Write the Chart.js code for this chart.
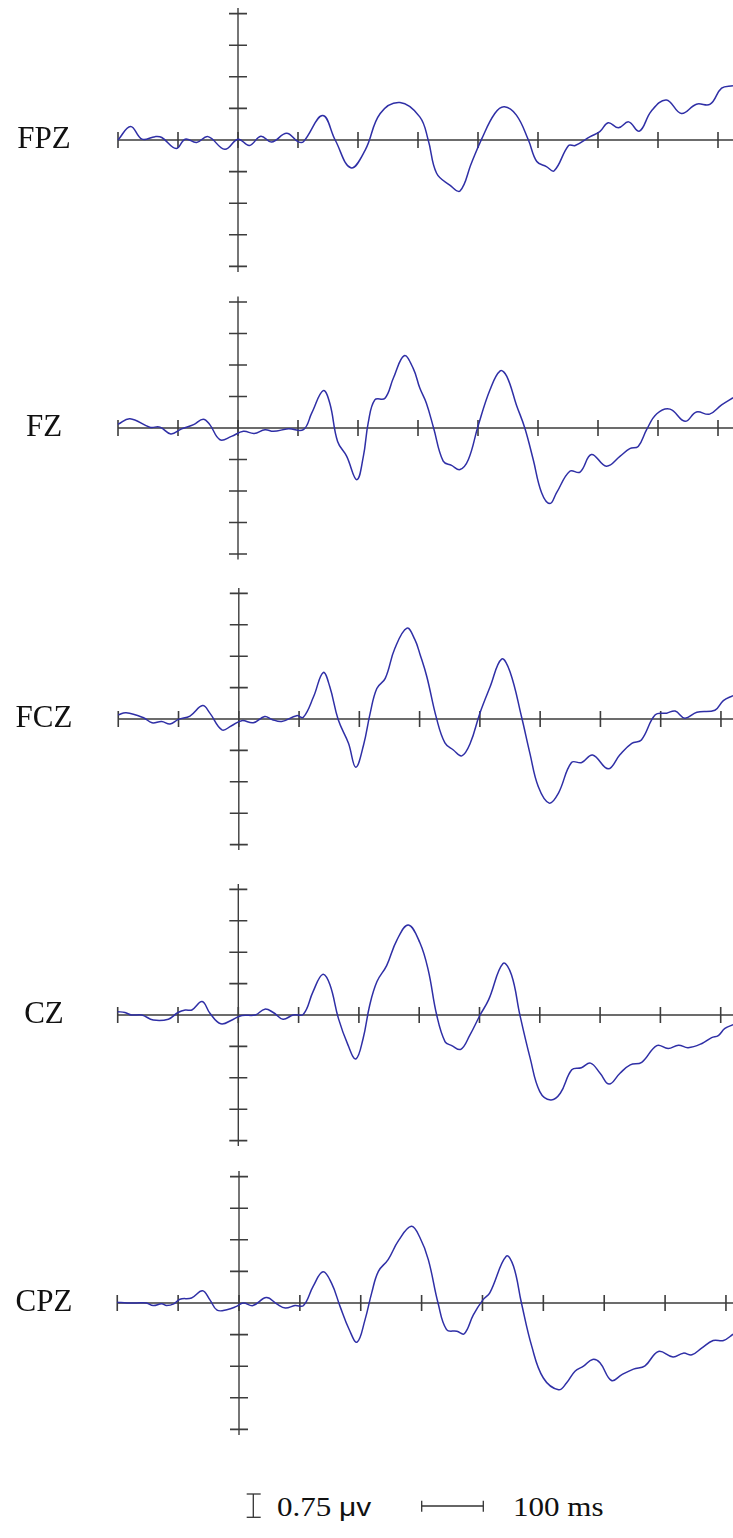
<!DOCTYPE html>
<html>
<head>
<meta charset="utf-8">
<script src="https://cdn.jsdelivr.net/npm/chart.js@4.4.1/dist/chart.umd.min.js"></script>
<style>
  html, body { margin: 0; padding: 0; background: #ffffff; }
  body { width: 733px; height: 1538px; position: relative; overflow: hidden; }
  canvas { position: absolute; left: 0; }
  .lab { position: absolute; left: 0; width: 88px; text-align: center;
         font-family: "Liberation Serif", "Times New Roman", serif; font-size: 31px;
         line-height: 31px; color: #111; white-space: nowrap; }
  .leg { position: absolute; font-family: "Liberation Serif", "Times New Roman", serif;
         font-size: 27px; line-height: 27px; color: #111; white-space: nowrap;
         transform-origin: 0 0; transform: scaleX(1.15); }
  .leg .sans { font-family: "Liberation Sans", Arial, sans-serif; font-size: 26px; }
</style>
</head>
<body>
<script>
// ---------------- data ----------------
const channelNames = ['FPZ', 'FZ', 'FCZ', 'CZ', 'CPZ'];

// tick values (ms and µV)
const xTickValues = [-200, -100, 0, 100, 200, 300, 400, 500, 600, 700, 800];
const yTickValues = [-3, -2.25, -1.5, -0.75, 0.75, 1.5, 2.25, 3];
const axisReachUv = 3.13;

const fpzTime = [-200,-179,-160,-138,-127,-103,-88,-69,-50,-22,0,19,38,56,81,100,109,141,162,188,212,237,270,303,317,331,353,370,389,406,428,444,464,484,498,514,527,551,562,587,603,617,634,651,669,689,714,739,764,787,806,825];
const fpzVolt = [0,0.32,0.02,0.08,0.06,-0.2,0.02,-0.06,0.08,-0.22,0.02,-0.13,0.09,-0.05,0.16,-0.04,-0.04,0.58,0,-0.66,-0.24,0.63,0.89,0.55,0,-0.79,-1.07,-1.21,-0.55,0.02,0.63,0.79,0.59,0,-0.51,-0.63,-0.73,-0.13,-0.13,0.08,0.2,0.41,0.29,0.43,0.21,0.69,0.95,0.63,0.85,0.85,1.23,1.29];

const fzTime = [-200,-180,-147,-130,-112,-94,-74,-58,-47,-30,-11,9,27,45,59,84,109,123,142,153,166,181,198,209,217,228,245,259,277,292,303,314,326,342,356,370,384,400,420,437,448,464,478,492,506,520,531,553,570,589,614,637,653,667,681,698,720,745,764,786,806,825];
const fzVolt = [0.09,0.22,0.02,0.02,-0.14,-0.02,0.08,0.21,0.08,-0.28,-0.2,-0.08,-0.13,-0.04,-0.08,-0.02,-0.04,0.36,0.89,0.59,-0.32,-0.67,-1.23,-0.67,0.12,0.67,0.71,1.19,1.72,1.42,0.95,0.59,0,-0.79,-0.89,-0.99,-0.75,0.04,0.91,1.36,1.23,0.55,0,-0.75,-1.54,-1.8,-1.54,-1.03,-1.05,-0.63,-0.91,-0.67,-0.49,-0.44,-0.04,0.34,0.45,0.16,0.38,0.33,0.55,0.72];

const fczTime = [-200,-187,-158,-144,-128,-114,-100,-81,-60,-48,-28,-12,5,24,43,55,71,96,107,124,140,151,165,182,194,207,218,229,243,259,279,292,301,312,328,342,356,370,384,400,417,436,450,469,483,497,515,530,552,569,587,613,632,652,668,691,710,724,740,760,790,804,820];
const fczVolt = [0.1,0.15,0.03,-0.09,-0.06,-0.12,-0.01,0.07,0.32,0.14,-0.26,-0.16,-0.04,-0.09,0.06,-0.01,-0.06,0.08,0.04,0.53,1.11,0.77,-0.02,-0.58,-1.15,-0.62,0.14,0.73,0.97,1.69,2.17,1.9,1.53,1.01,0.02,-0.57,-0.74,-0.88,-0.58,0.14,0.77,1.43,1.13,0.06,-0.82,-1.62,-2.01,-1.78,-1.04,-1.04,-0.86,-1.19,-0.86,-0.58,-0.5,0.1,0.14,0.19,0.02,0.16,0.21,0.44,0.56];

const czTime = [-200,-188,-177,-160,-141,-116,-100,-88,-77,-60,-47,-29,-8,6,28,44,58,74,91,108,124,140,152,166,182,195,207,218,230,246,263,282,301,315,329,343,354,369,384,401,415,439,453,467,484,500,518,534,553,569,584,600,615,633,650,669,694,713,730,746,769,785,796,807,821];
const czVolt = [0.08,0.06,0,0,-0.12,-0.1,0.06,0.12,0.12,0.32,0.04,-0.21,-0.1,-0.01,0,0.14,0.06,-0.1,0,0.02,0.56,0.97,0.72,-0.08,-0.72,-1.05,-0.56,0.24,0.8,1.18,1.79,2.15,1.73,1.07,0,-0.64,-0.73,-0.82,-0.48,0,0.36,1.23,0.96,0,-1.03,-1.83,-2.03,-1.87,-1.31,-1.26,-1.15,-1.39,-1.65,-1.39,-1.19,-1.13,-0.73,-0.8,-0.72,-0.78,-0.68,-0.54,-0.49,-0.32,-0.23];

const cpzTime = [-200,-184,-168,-152,-141,-127,-119,-107,-97,-78,-60,-48,-36,-20,-4,7,23,45,62,76,92,106,122,138,152,166,181,194,207,218,229,245,262,283,297,311,327,341,358,370,385,401,412,439,451,464,481,500,525,538,552,566,581,593,612,629,648,667,689,713,730,744,760,779,796,812];
const cpzVolt = [0.02,0,0,0,-0.06,-0.02,-0.06,-0.02,0.09,0.12,0.29,0.08,-0.17,-0.16,-0.08,0,-0.06,0.13,-0.02,-0.12,-0.06,-0.06,0.4,0.74,0.47,-0.08,-0.63,-0.93,-0.4,0.24,0.75,1.03,1.48,1.82,1.56,1.03,0,-0.63,-0.67,-0.73,-0.28,0.08,0.24,1.11,0.87,0,-1.03,-1.78,-2.06,-1.9,-1.62,-1.5,-1.34,-1.42,-1.84,-1.7,-1.57,-1.49,-1.15,-1.28,-1.19,-1.23,-1.07,-0.89,-0.89,-0.74];

const channelTimes = [fpzTime, fzTime, fczTime, czTime, cpzTime];
const channelVolts = [fpzVolt, fzVolt, fczVolt, czVolt, cpzVolt];

// ---------------- layout (positions only) ----------------
const panelBaselineY = [140, 428, 719, 1015, 1303];   // page y of the 0 µV line
const panelZeroX     = [238, 238, 238.8, 238.3, 239];  // page x of t = 0
const panelPxPerMs   = [0.6, 0.6, 0.6027, 0.603, 0.6087];
const panelPxPerTick = [31.6, 31.5, 31.4, 31.4, 31.6];
const PANEL_H = 280, PANEL_W = 733;

const LINE_COLOR = '#2f2fa6';
const AXIS_COLOR = '#3d3d3d';

const axisPlugin = {
  id: 'erpAxes',
  beforeDatasetsDraw(chart) {
    const { ctx } = chart;
    const xs = chart.scales.x, ys = chart.scales.y;
    const x0 = xs.getPixelForValue(0);
    const y0 = ys.getPixelForValue(0);
    ctx.save();
    ctx.strokeStyle = AXIS_COLOR;
    ctx.lineWidth = 1.4;
    ctx.beginPath();
    ctx.moveTo(xs.getPixelForValue(xTickValues[0]), y0);
    ctx.lineTo(chart.width, y0);
    ctx.moveTo(x0, ys.getPixelForValue(axisReachUv));
    ctx.lineTo(x0, ys.getPixelForValue(-axisReachUv));
    ctx.stroke();
    ctx.lineWidth = 1.6;
    ctx.beginPath();
    xTickValues.forEach(t => {
      const px = xs.getPixelForValue(t);
      ctx.moveTo(px, y0 - 8); ctx.lineTo(px, y0 + 8);
    });
    yTickValues.forEach(v => {
      const py = ys.getPixelForValue(v);
      ctx.moveTo(x0 - 9, py); ctx.lineTo(x0 + 9, py);
    });
    ctx.stroke();
    ctx.restore();
  }
};

channelNames.forEach((name, i) => {
  const top = panelBaselineY[i] - PANEL_H / 2;
  const canvas = document.createElement('canvas');
  canvas.width = PANEL_W; canvas.height = PANEL_H;
  canvas.style.top = top + 'px';
  canvas.style.width = PANEL_W + 'px'; canvas.style.height = PANEL_H + 'px';
  document.body.appendChild(canvas);

  const pxPerUv = panelPxPerTick[i] / 0.75;
  const halfRange = (PANEL_H / 2) / pxPerUv;
  const k = panelPxPerMs[i];
  const times = channelTimes[i], volts = channelVolts[i];

  new Chart(canvas, {
    type: 'line',
    data: {
      datasets: [{
        label: name,
        data: times.map((t, j) => ({ x: t, y: volts[j] })),
        borderColor: LINE_COLOR,
        borderWidth: 1.5,
        pointRadius: 0,
        fill: false,
        tension: 0.4,
        clip: false
      }]
    },
    options: {
      responsive: false,
      animation: false,
      devicePixelRatio: 1,
      events: [],
      layout: { padding: 0 },
      plugins: { legend: { display: false }, tooltip: { enabled: false }, title: { display: false } },
      scales: {
        x: { type: 'linear', display: false, min: -panelZeroX[i] / k, max: (PANEL_W - panelZeroX[i]) / k },
        y: { type: 'linear', display: false, min: -halfRange, max: halfRange }
      }
    },
    plugins: [axisPlugin]
  });

  const lab = document.createElement('div');
  lab.className = 'lab';
  lab.textContent = name;
  lab.style.top = (panelBaselineY[i] - 18.3) + 'px';
  document.body.appendChild(lab);
});
</script>

<svg style="position:absolute;left:0;top:1480px" width="733" height="58">
  <g stroke="#333" stroke-width="1.3" fill="none">
    <line x1="253.3" y1="14" x2="253.3" y2="37.3"/>
    <line x1="246.7" y1="14" x2="260.7" y2="14"/>
    <line x1="246.7" y1="37.3" x2="260.7" y2="37.3"/>
    <line x1="421.7" y1="26" x2="483.3" y2="26"/>
    <line x1="421.7" y1="20.7" x2="421.7" y2="31.7"/>
    <line x1="483.3" y1="20.7" x2="483.3" y2="31.7"/>
  </g>
</svg>
<div class="leg" style="left:276.7px;top:1494px;">0.75 <span class="sans">μv</span></div>
<div class="leg" style="left:513.3px;top:1494px;">100 ms</div>
</body>
</html>
